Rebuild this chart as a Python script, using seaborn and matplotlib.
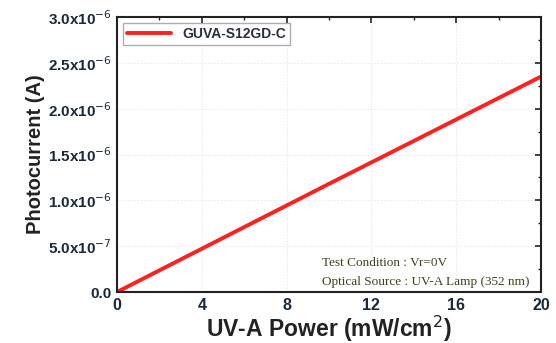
import matplotlib
matplotlib.use("Agg")
import matplotlib.pyplot as plt
import seaborn as sns
import pandas as pd
from matplotlib.ticker import MultipleLocator, FixedLocator, FixedFormatter

sns.set_theme(style="white")
plt.rcParams['font.family'] = ['Liberation Sans', 'DejaVu Sans']

power = [0, 5, 10, 15, 20]
current = [0.0, 0.59e-6, 1.18e-6, 1.765e-6, 2.35e-6]
series_name = "GUVA-S12GD-C"
ytick_vals = [0, 0.5e-6, 1.0e-6, 1.5e-6, 2.0e-6, 2.5e-6, 3.0e-6]
ytick_labels = ["0.0", r"5.0x10$^{-7}$", r"1.0x10$^{-6}$", r"1.5x10$^{-6}$",
                r"2.0x10$^{-6}$", r"2.5x10$^{-6}$", r"3.0x10$^{-6}$"]
xtick_vals = [0, 4, 8, 12, 16, 20]

df = pd.DataFrame({"power": power, "current": current, "name": series_name})

fig = plt.figure(figsize=(5.56, 3.43), dpi=100)
ax = fig.add_axes([117/556, 1-292/343, (541-117)/556, (292-17)/343])
sns.lineplot(data=df, x="power", y="current", hue="name", palette=["#ff2020"],
             linewidth=2.8, ax=ax)
ax.set_xlim(0, 20)
ax.set_ylim(0, 3.0e-6)
ax.xaxis.set_major_locator(FixedLocator(xtick_vals))
ax.xaxis.set_minor_locator(MultipleLocator(2))
ax.yaxis.set_major_locator(FixedLocator(ytick_vals))
ax.yaxis.set_major_formatter(FixedFormatter(ytick_labels))
ax.yaxis.set_minor_locator(MultipleLocator(0.25e-6))
ax.tick_params(axis='both', which='both', direction='in', top=True, right=True,
               colors='#222222', labelcolor='#1a2a3a')
ax.tick_params(which='major', length=4, width=1.2, pad=4)
ax.tick_params(which='minor', length=2, width=1)
for lab in ax.get_yticklabels():
    lab.set_fontweight('bold')
    lab.set_fontsize(11)
for lab in ax.get_xticklabels():
    lab.set_fontweight('bold')
    lab.set_fontsize(11.5)
ax.grid(True, which='major', color='#e6e6e6', linestyle=(0, (2, 2)), linewidth=0.6)
for s in ax.spines.values():
    s.set_color('#222222')
    s.set_linewidth(1.5)
ax.set_xlabel(r"UV-A Power (mW/cm$^2$)", fontsize=16.5, fontweight='bold', color='#222222', labelpad=1)
ax.set_ylabel("Photocurrent (A)", fontsize=14.5, fontweight='bold', color='#222222', labelpad=2)
leg = ax.legend(loc='upper left', frameon=True, fancybox=False,
                handlelength=3.2, borderaxespad=0.4, edgecolor='#999999',
                borderpad=0.3, prop={'weight': 'bold', 'size': 10})
for t in leg.get_texts():
    t.set_color('#2a3040')
ax.text(0.483, 0.105, "Test Condition : Vr=0V", transform=ax.transAxes,
        fontsize=9.5, family='Liberation Serif', color='#404020', va='center')
ax.text(0.483, 0.036, "Optical Source : UV-A Lamp (352 nm)", transform=ax.transAxes,
        fontsize=9.5, family='Liberation Serif', color='#404020', va='center')
fig.savefig("out.png", dpi=100)
